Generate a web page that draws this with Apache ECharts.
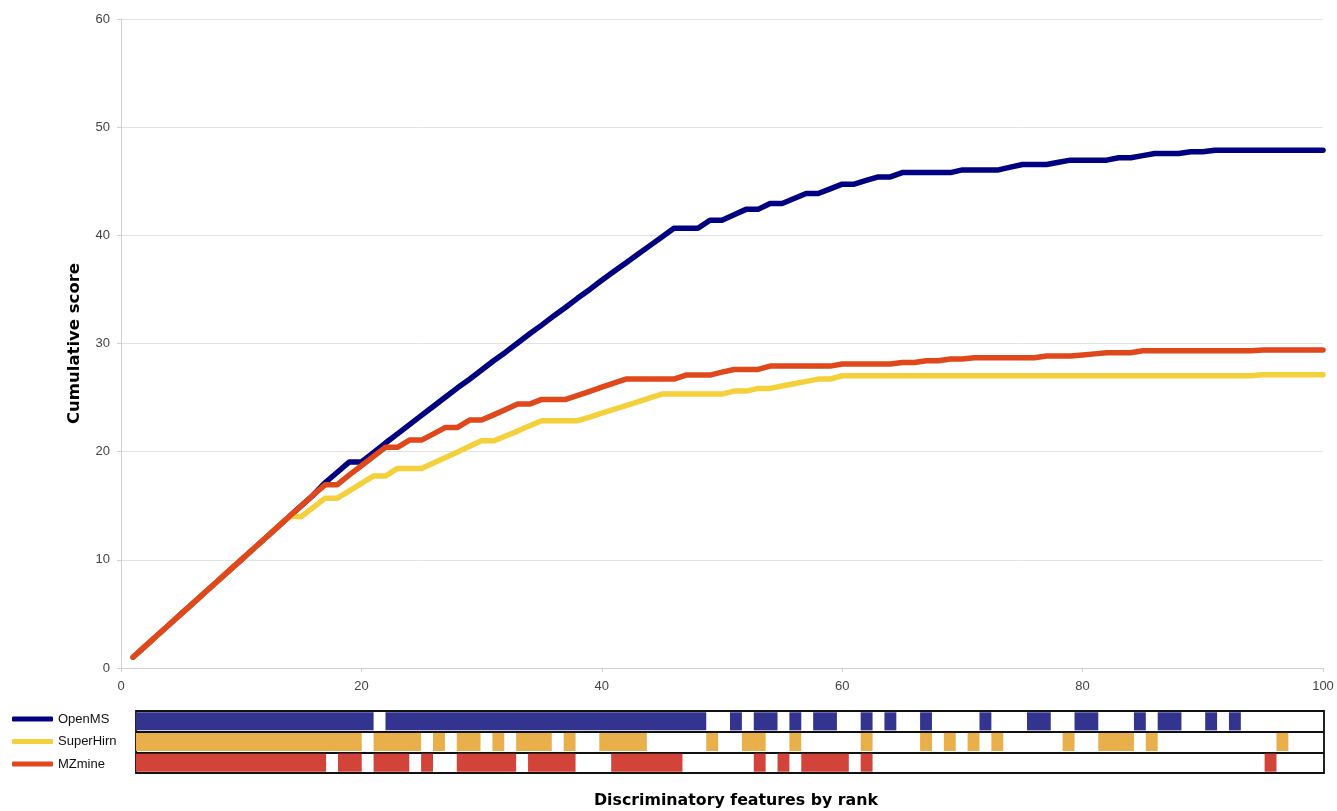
<!DOCTYPE html>
<html><head><meta charset="utf-8">
<script src="https://cdn.jsdelivr.net/npm/echarts@6/dist/echarts.min.js"></script>
<style>html,body{margin:0;padding:0;background:#fff}#c{width:1337px;height:811px}</style>
</head><body><div id="c"></div>
<script>
// ---- data ----
const ranks = Array.from({length: 100}, (_, i) => i + 1);
const yTicks = [0, 10, 20, 30, 40, 50, 60];
const seriesNames = ['OpenMS', 'SuperHirn', 'MZmine'];

const openms = [
  1,2,3,4,5,6,7,8,9,10,
  11,12,13,14,15,16,17.15,18.1,19.05,19.05,
  19.9,20.8,21.65,22.5,23.35,24.2,25.05,25.9,26.7,27.55,
  28.4,29.2,30.05,30.9,31.7,32.55,33.35,34.2,35.0,35.85,
  36.65,37.45,38.25,39.05,39.85,40.65,40.65,40.65,41.4,41.4,
  41.9,42.4,42.4,42.95,42.95,43.4,43.87,43.87,44.3,44.73,
  44.73,45.07,45.4,45.4,45.8,45.8,45.8,45.8,45.8,46.05,
  46.05,46.05,46.05,46.3,46.55,46.55,46.55,46.75,46.95,46.95,
  46.95,46.95,47.17,47.17,47.37,47.56,47.56,47.56,47.72,47.72,
  47.87,47.87,47.87,47.87,47.87,47.87,47.87,47.87,47.87,47.87
];
const superhirn = [
  1,2,3,4,5,6,7,8,9,10,
  11,12,13,14,14,14.85,15.7,15.7,16.38,17.06,
  17.74,17.74,18.45,18.45,18.45,18.96,19.47,19.98,20.49,21.0,
  21.0,21.45,21.9,22.4,22.86,22.86,22.86,22.86,23.2,23.56,
  23.9,24.25,24.6,24.97,25.32,25.32,25.32,25.32,25.32,25.32,
  25.6,25.6,25.85,25.85,26.07,26.28,26.5,26.71,26.71,27.02,
  27.02,27.02,27.02,27.02,27.02,27.02,27.02,27.02,27.02,27.02,
  27.02,27.02,27.02,27.02,27.02,27.02,27.02,27.02,27.02,27.02,
  27.02,27.02,27.02,27.02,27.02,27.02,27.02,27.02,27.02,27.02,
  27.02,27.02,27.02,27.02,27.12,27.12,27.12,27.12,27.12,27.12
];
const mzmine = [
  1,2,3,4,5,6,7,8,9,10,
  11,12,13,14,15,16,16.95,16.95,17.85,18.7,
  19.55,20.4,20.4,21.07,21.07,21.65,22.24,22.24,22.92,22.92,
  23.4,23.9,24.4,24.4,24.83,24.83,24.83,25.2,25.58,25.96,
  26.33,26.71,26.71,26.71,26.71,26.71,27.08,27.08,27.08,27.35,
  27.6,27.6,27.6,27.91,27.91,27.91,27.91,27.91,27.91,28.1,
  28.1,28.1,28.1,28.1,28.25,28.25,28.4,28.4,28.56,28.56,
  28.68,28.68,28.68,28.68,28.68,28.68,28.84,28.84,28.84,28.94,
  29.04,29.14,29.14,29.14,29.33,29.33,29.33,29.33,29.33,29.33,
  29.33,29.33,29.33,29.33,29.4,29.4,29.4,29.4,29.4,29.4
];

// ranks where each tool detected the feature (runs of consecutive ranks)
const openmsRuns = [[1,20],[22,48],[51,51],[53,54],[56,56],[58,59],[62,62],[64,64],[67,67],[72,72],[76,77],[80,81],[85,85],[87,88],[91,91],[93,93]];
const superhirnRuns = [[1,19],[21,24],[26,26],[28,29],[31,31],[33,35],[37,37],[40,43],[49,49],[52,53],[56,56],[62,62],[67,67],[69,69],[71,71],[73,73],[79,79],[82,84],[86,86],[97,97]];
const mzmineRuns = [[1,16],[18,19],[21,23],[25,25],[28,32],[34,37],[41,46],[53,53],[55,55],[57,60],[62,62],[96,96]];

// ---- styles ----
const lineColors = ['#000080', '#F4D13B', '#E0481C'];
const barColors = ['#32348F', '#E9AF4B', '#D2443A'];
const FONT = '"Liberation Sans", Arial, sans-serif';
const TITLE_FONT = '"DejaVu Sans", "Liberation Sans", Arial, sans-serif';

const lineValues = [openms, superhirn, mzmine];
const runSets = [openmsRuns, superhirnRuns, mzmineRuns];

const lineSeries = seriesNames.map((name, s) => ({
  name: name,
  type: 'line',
  xAxisIndex: 0, yAxisIndex: 0,
  data: ranks.map((r, i) => [r, lineValues[s][i]]),
  showSymbol: false,
  symbol: 'none',
  lineStyle: { width: 5.5, color: lineColors[s], cap: 'round', join: 'round' },
  itemStyle: { color: lineColors[s] },
  z: 2 + s
}));

const barSeries = seriesNames.map((name, s) => ({
  name: name + ' presence',
  type: 'custom',
  xAxisIndex: 1, yAxisIndex: 1,
  encode: { x: [0, 1], y: 2 },
  data: runSets[s].map(r => [r[0], r[1], s]),
  renderItem: function (params, api) {
    const a = api.coord([api.value(0) - 0.5, api.value(2)]);
    const b = api.coord([api.value(1) + 0.5, api.value(2)]);
    const h = api.size([0, 1])[1];
    return {
      type: 'rect',
      shape: { x: a[0], y: a[1] - h / 2 + 1.3, width: b[0] - a[0], height: h - 2.6 },
      style: { fill: barColors[s] }
    };
  },
  z: 2
}));

const chart = echarts.init(document.getElementById('c'), null, { renderer: 'canvas' });
chart.setOption({
  animation: false,
  backgroundColor: '#ffffff',
  textStyle: { fontFamily: FONT },
  title: {
    text: 'Discriminatory features by rank',
    left: 594, top: 793, padding: 0,
    textStyle: { fontSize: 15.8, fontWeight: 'bold', color: '#000', fontFamily: TITLE_FONT }
  },
  legend: {
    data: seriesNames,
    orient: 'vertical',
    left: 12, top: 711, padding: 0,
    itemWidth: 41, itemHeight: 5,
    itemGap: 6.5,
    icon: 'roundRect',
    textStyle: { fontSize: 13, color: '#111', fontFamily: FONT, lineHeight: 16 },
    selectedMode: false
  },
  grid: [
    { left: 121, right: 14, top: 19, bottom: 143 },
    { left: 136, width: 1188, top: 711, height: 62, show: true, borderColor: '#222', borderWidth: 2, backgroundColor: 'transparent' }
  ],
  xAxis: [
    {
      gridIndex: 0, type: 'value', min: 0, max: 100, interval: 20,
      axisLine: { show: true, lineStyle: { color: '#cfcfcf', width: 1 } },
      axisTick: { show: true, length: 4, lineStyle: { color: '#cfcfcf' } },
      axisLabel: { fontSize: 13, color: '#444', margin: 12, fontFamily: FONT },
      splitLine: { show: false }
    },
    {
      gridIndex: 1, type: 'value', min: 0.5, max: 100.5, show: false
    }
  ],
  yAxis: [
    {
      gridIndex: 0, type: 'value', min: 0, max: 60, interval: 10,
      axisLine: { show: true, lineStyle: { color: '#cfcfcf', width: 1 } },
      axisTick: { show: true, length: 4, lineStyle: { color: '#cfcfcf' } },
      axisLabel: { fontSize: 13, color: '#444', margin: 11, fontFamily: FONT,
        formatter: v => (yTicks.indexOf(v) >= 0 ? String(v) : '') },
      splitLine: { show: true, lineStyle: { color: '#e2e2e2', width: 1 } },
      name: 'Cumulative score',
      nameLocation: 'middle',
      nameGap: 38,
      nameTextStyle: { fontSize: 16.5, fontWeight: 'bold', color: '#000', fontFamily: TITLE_FONT }
    },
    {
      gridIndex: 1, type: 'category', data: seriesNames, inverse: true,
      axisLine: { show: false }, axisTick: { show: false }, axisLabel: { show: false },
      splitLine: { show: true, lineStyle: { color: '#111', width: 2 } }
    }
  ],
  series: barSeries.concat(lineSeries)
});
</script>
</body></html>
